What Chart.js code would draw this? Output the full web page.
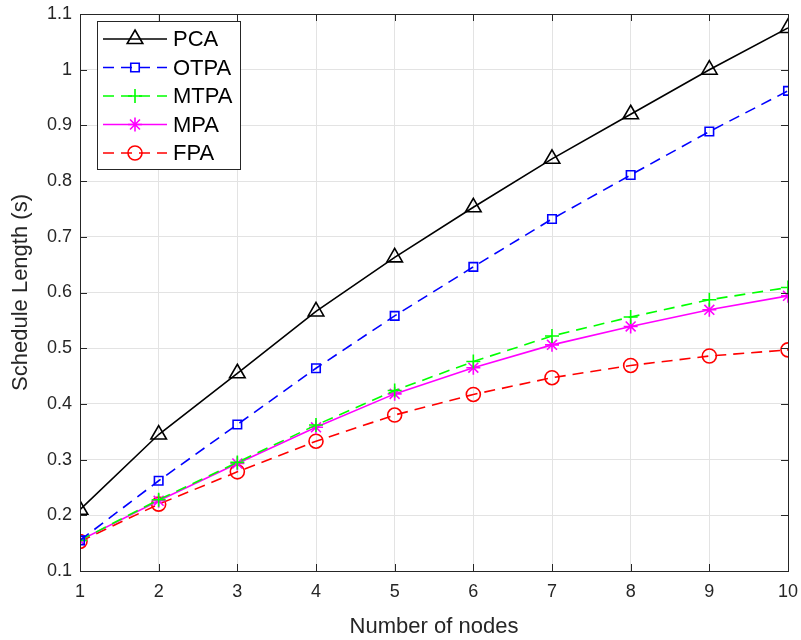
<!DOCTYPE html>
<html lang="en">
<head>
<meta charset="UTF-8">
<title>Schedule Length</title>
<script src="https://cdn.jsdelivr.net/npm/chart.js@4.4.0/dist/chart.umd.min.js"></script>
<style>
body{margin:0;background:#fff}
#wrap{width:801px;height:640px}
</style>
</head>
<body>
<div id="wrap"><canvas id="c" width="801" height="640"></canvas></div>
<script>
/* ---------- data ---------- */
const nodes = [1,2,3,4,5,6,7,8,9,10];
const pca  = [0.210,0.345,0.455,0.566,0.663,0.753,0.840,0.920,1.000,1.075];
const otpa = [0.155,0.262,0.363,0.464,0.558,0.646,0.732,0.811,0.889,0.962];
const mtpa = [0.155,0.228,0.295,0.362,0.424,0.476,0.522,0.556,0.587,0.609];
const mpa  = [0.155,0.226,0.293,0.358,0.418,0.465,0.506,0.539,0.569,0.594];
const fpa  = [0.153,0.220,0.278,0.333,0.380,0.417,0.447,0.469,0.486,0.497];
const yTicks = [0.1,0.2,0.3,0.4,0.5,0.6,0.7,0.8,0.9,1,1.1];

const pts = arr => arr.map((v,i)=>({x:nodes[i],y:v}));
const DASH = [11,7];
const mk = (label,data,color,style,radius,dash)=>({
  label, data:pts(data), borderColor:color, borderWidth:1.6, borderDash:dash,
  pointStyle:style, pointRadius:radius, pointBorderColor:color,
  pointBackgroundColor:'rgba(0,0,0,0)', pointBorderWidth:1.6,
  pointHoverRadius:radius, fill:false, tension:0
});

const datasets = [
  mk('PCA', pca, '#000000','triangle',9,[]),
  mk('OTPA',otpa,'#0000ff','rect',6,DASH),
  mk('MTPA',mtpa,'#00ff00','cross',7,DASH),
  mk('MPA', mpa, '#ff00ff','star',7,[]),
  mk('FPA', fpa, '#ff0000','circle',7,DASH)
];

const AX = '#262626';
const fontFam = '"Liberation Sans", Arial, sans-serif';

/* ---------- box, inner ticks, legend ---------- */
const matlabBox = {
  id:'matlabBox',
  afterDraw(chart){
    const {ctx, chartArea:a, scales:{x,y}} = chart;
    ctx.save();
    ctx.strokeStyle = AX; ctx.lineWidth = 1; ctx.setLineDash([]);
    ctx.strokeRect(a.left+0.5, a.top+0.5, a.right-a.left, a.bottom-a.top);
    ctx.beginPath();
    nodes.forEach(n=>{
      const px = Math.round(x.getPixelForValue(n))+0.5;
      ctx.moveTo(px,a.bottom); ctx.lineTo(px,a.bottom-7);
      ctx.moveTo(px,a.top); ctx.lineTo(px,a.top+7);
    });
    yTicks.forEach(t=>{
      const py = Math.round(y.getPixelForValue(t))+0.5;
      ctx.moveTo(a.left,py); ctx.lineTo(a.left+7,py);
      ctx.moveTo(a.right,py); ctx.lineTo(a.right-7,py);
    });
    ctx.stroke();

    // legend
    const lx = 97, ly = 21, lw = 143, lh = 148;
    ctx.fillStyle = '#fff';
    ctx.fillRect(lx,ly,lw,lh);
    ctx.strokeStyle = AX;
    ctx.strokeRect(lx+0.5,ly+0.5,lw,lh);
    ctx.textBaseline = 'middle';
    chart.data.datasets.forEach((ds,i)=>{
      const yy = 39 + i*28.5;
      ctx.strokeStyle = ds.borderColor; ctx.lineWidth = ds.borderWidth;
      ctx.setLineDash(ds.borderDash);
      ctx.beginPath(); ctx.moveTo(103,yy); ctx.lineTo(167,yy); ctx.stroke();
      ctx.setLineDash([]);
      ctx.fillStyle = 'rgba(0,0,0,0)';
      Chart.helpers.drawPoint(ctx,{pointStyle:ds.pointStyle,radius:ds.pointRadius,
        borderWidth:ds.pointBorderWidth,rotation:0},135,yy);
      ctx.fillStyle = '#000';
      ctx.font = '22px ' + fontFam;
      ctx.fillText(ds.label,173,yy+1);
    });
    ctx.restore();
  }
};

new Chart(document.getElementById('c'),{
  type:'line',
  data:{datasets},
  options:{
    responsive:false, animation:false,
    layout:{padding:{left:0,right:13,top:14,bottom:0}},
    plugins:{legend:{display:false},tooltip:{enabled:false}},
    scales:{
      x:{type:'linear',min:1,max:10,
        ticks:{stepSize:1,color:AX,font:{family:fontFam,size:18},padding:10},
        grid:{color:'#e3e3e3',drawTicks:false},border:{display:false},
        title:{display:true,text:'Number of nodes',color:AX,font:{family:fontFam,size:22},padding:{top:8,bottom:0}},
        afterFit(s){s.height=69; s.paddingLeft=0; s.paddingRight=0;}
      },
      y:{type:'linear',min:0.1,max:1.1,
        afterBuildTicks(s){s.ticks = yTicks.map(v=>({value:v}));},
        ticks:{color:AX,font:{family:fontFam,size:18},padding:8,
          callback:v=>String(Number(v.toFixed(1)))},
        grid:{color:'#e3e3e3',drawTicks:false},border:{display:false},
        title:{display:true,text:'Schedule Length (s)',color:AX,font:{family:fontFam,size:22},padding:{top:8,bottom:2}},
        afterFit(s){s.width=80; s.paddingTop=0; s.paddingBottom=0;}
      }
    }
  },
  plugins:[matlabBox]
});
</script>
</body>
</html>
